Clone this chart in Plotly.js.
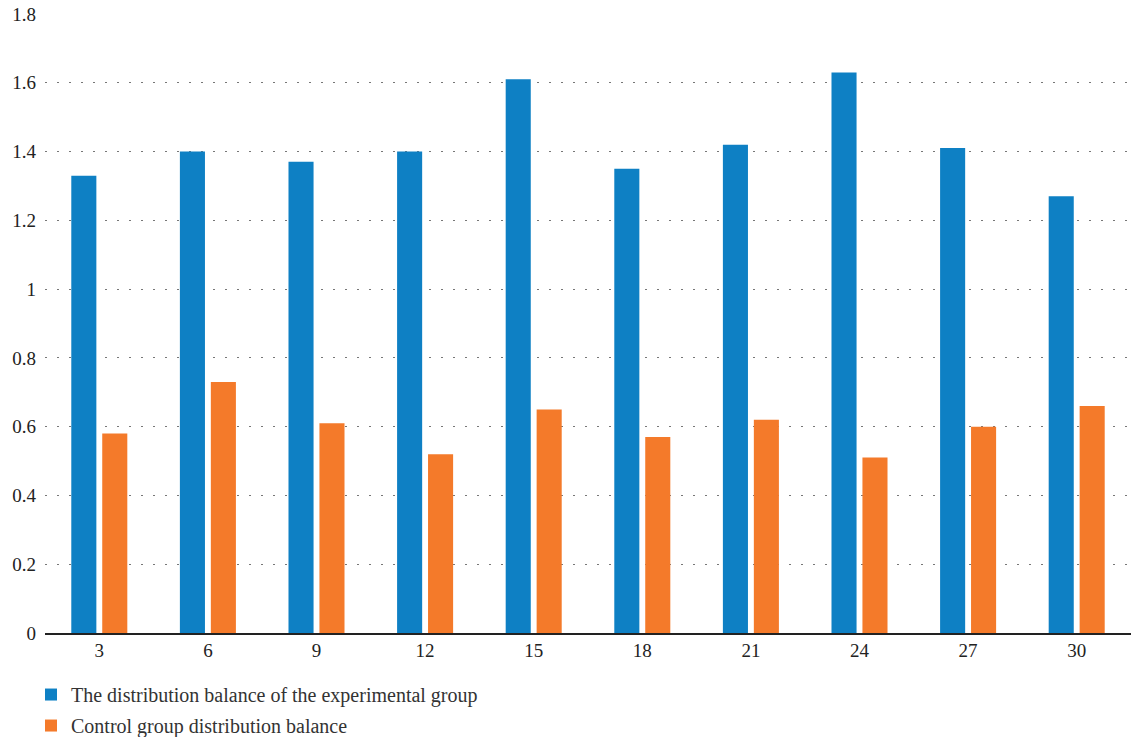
<!DOCTYPE html>
<html>
<head>
<meta charset="utf-8">
<script src="https://cdn.plot.ly/plotly-3.0.1.min.js"></script>
<style>
  html, body { margin: 0; padding: 0; background: #fff; }
  #chart { width: 1131px; height: 737px; }
</style>
</head>
<body>
<div id="chart"></div>
<script>
// Sampling points (x axis categories)
const categories = ['3', '6', '9', '12', '15', '18', '21', '24', '27', '30'];

// Distribution balance per group
const experimentalValues = [1.33, 1.40, 1.37, 1.40, 1.61, 1.35, 1.42, 1.63, 1.41, 1.27];
const controlValues = [0.58, 0.73, 0.61, 0.52, 0.65, 0.57, 0.62, 0.51, 0.60, 0.66];

// Y axis ticks
const yTickValues = [0, 0.2, 0.4, 0.6, 0.8, 1, 1.2, 1.4, 1.6, 1.8];
const yTickLabels = ['0', '0.2', '0.4', '0.6', '0.8', '1', '1.2', '1.4', '1.6', '1.8'];

const seriesNames = [
  'The distribution balance of the experimental group',
  'Control group distribution balance'
];

const FONT = '"Liberation Serif", "DejaVu Serif", serif';

const traces = [
  {
    type: 'bar',
    name: seriesNames[0],
    x: categories,
    y: experimentalValues,
    marker: { color: '#0e80c4' },
    legendgroup: 'a',
    hoverinfo: 'x+y'
  },
  {
    type: 'bar',
    name: seriesNames[1],
    x: categories,
    y: controlValues,
    marker: { color: '#f47a2a' },
    legendgroup: 'b',
    hoverinfo: 'x+y'
  }
];

const layout = {
  width: 1131,
  height: 737,
  margin: { l: 45, r: 0, t: 14, b: 104, autoexpand: false },
  paper_bgcolor: '#ffffff',
  plot_bgcolor: '#ffffff',
  font: { family: FONT, size: 20, color: '#222222' },
  barmode: 'group',
  bargap: 0.43,
  bargroupgap: 0.19,
  xaxis: {
    type: 'category',
    showgrid: false,
    showline: true,
    linecolor: '#222222',
    linewidth: 1.5,
    ticks: '',
    ticklabelstandoff: 0,
    tickfont: { family: FONT, size: 19, color: '#222222' },
    zeroline: false
  },
  yaxis: {
    range: [0, 1.8],
    tickvals: yTickValues,
    ticktext: yTickLabels,
    showgrid: true,
    gridcolor: '#777777',
    gridwidth: 1,
    griddash: '1.5px,10.5px',
    zeroline: false,
    showline: false,
    ticks: '',
    ticklabelstandoff: 8,
    tickfont: { family: FONT, size: 19, color: '#222222' }
  },
  showlegend: true,
  legend: {
    orientation: 'v',
    traceorder: 'grouped',
    tracegroupgap: 2,
    x: 31 / 1131,
    xref: 'container',
    xanchor: 'left',
    y: -0.0679,
    yref: 'paper',
    yanchor: 'top',
    font: { family: FONT, size: 20, color: '#333333' },
    bgcolor: 'rgba(0,0,0,0)'
  }
};

Plotly.newPlot('chart', traces, layout, { displayModeBar: false, staticPlot: true });
</script>
</body>
</html>
